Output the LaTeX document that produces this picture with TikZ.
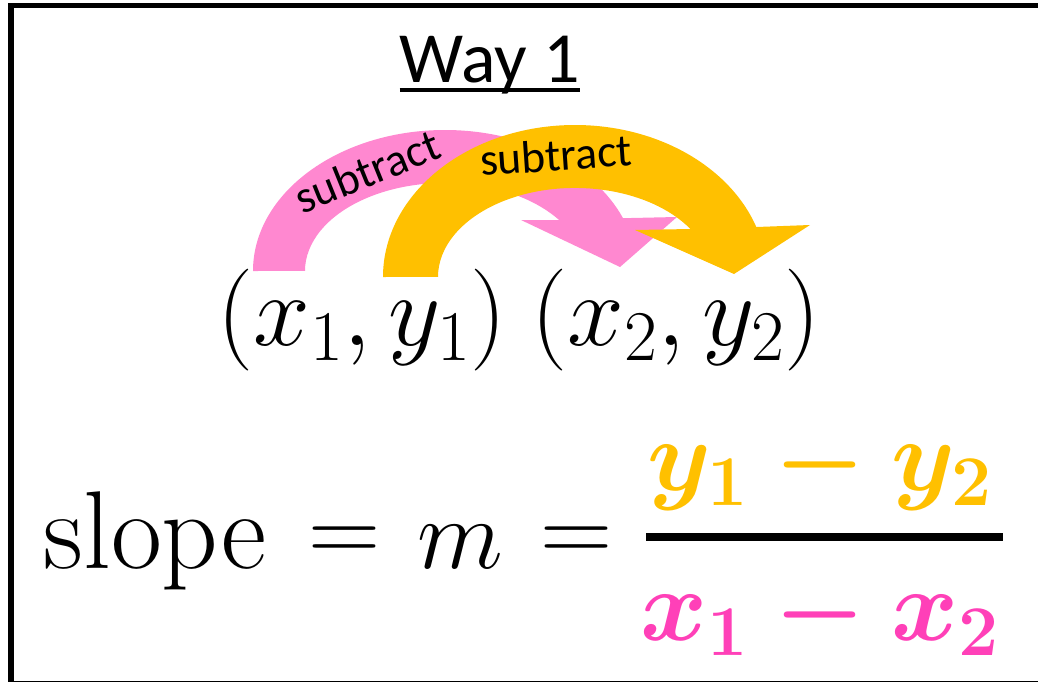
\RequirePackage{fix-cm}
\documentclass[tikz,border=0pt]{standalone}
\usepackage{amsmath}
\usepackage{fontspec}
\newfontfamily\calibri{Carlito}
\usetikzlibrary{calc}
\definecolor{arcgold}{HTML}{FFC000}
\definecolor{arcpink}{HTML}{FF88D0}
\definecolor{fracpink}{HTML}{FF40B8}

\begin{document}
\begin{tikzpicture}[
  x=0.02cm, y=0.02cm,
  lbl/.style={inner sep=0pt, anchor=base},
  word/.style={inner sep=0pt, font=\calibri\fontsize{26}{30}\selectfont},
  big/.style={lbl, font=\fontsize{#1}{#1}\selectfont},
]
\useasboundingbox (0,0) rectangle (1038,681);
\clip (0,0) rectangle (1038,681);
\fill[white] (0,0) rectangle (1038,681);
\draw[line width=3.4pt] (11,675.5) rectangle (1060,-3);

\node[lbl, font=\calibri\fontsize{41}{46}\selectfont] (way) at (490,599) {Way 1};
\draw[line width=2.2pt] ($(way.base west)+(0,-8)$) -- ($(way.base east)+(0,-8)$);

\coordinate (pinkc) at (445,410);
\coordinate (goldc) at (575,404);
\fill[arcpink] ($(pinkc)+(-192,0)$) arc[start angle=180, end angle=22, x radius=192, y radius=141]
  -- (677,464) -- (620,414) -- (521,461) -- ($(pinkc)+(114.1,51)$)
  arc[start angle=35.4, end angle=180, x radius=140, y radius=88] -- cycle;
\fill[arcgold] ($(goldc)+(-192,0)$) arc[start angle=180, end angle=19.2, x radius=192, y radius=152]
  -- (810,456) -- (734,407) -- (635,451) -- ($(goldc)+(115.4,48)$)
  arc[start angle=32.6, end angle=180, x radius=137, y radius=89] -- cycle;
\node[word, rotate=22] (subA) at (367,510) {subtract};
\node[word, rotate=4] (subB) at (556,526) {subtract};

\node[big=58] (ptA) at (362,336) {$(x_1,y_1)$};
\node[big=58] (ptB) at (676,336) {$(x_2,y_2)$};

\node[big=63] (slope) at (155,113) {slope};
\node[big=57] (eqA) at (345,119) {$=$};
\node[big=57] (slopem) at (460,113) {$m$};
\node[big=57] (eqB) at (577,119) {$=$};
\node[big=58, text=arcgold] (num) at (820,191) {$\boldsymbol{y_1-y_2}$};
\draw[line width=4pt] (646,144) -- (1003,144);
\node[big=58, text=fracpink] (den) at (820,41) {$\boldsymbol{x_1-x_2}$};
\end{tikzpicture}
\end{document}
